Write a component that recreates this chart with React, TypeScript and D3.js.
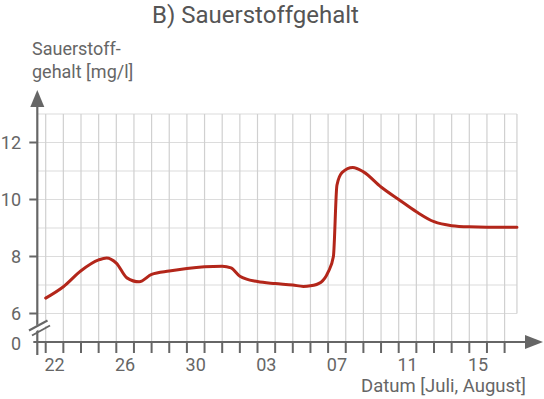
import React from 'react';
import * as d3 from 'd3';

// days counted from the start of 22 July; value in mg/l
const dayPos = [0, 1, 2, 3, 3.45, 4, 4.6, 5.3, 6, 7, 8, 9, 10, 10.5, 11, 12, 13, 14, 14.6, 15, 15.6, 16, 16.3, 16.5, 16.8, 17.4, 18, 19, 20, 21, 22, 23, 24, 25, 26.7];
const oxygen = [6.54, 6.94, 7.5, 7.88, 7.95, 7.77, 7.25, 7.11, 7.37, 7.49, 7.58, 7.64, 7.66, 7.6, 7.31, 7.12, 7.05, 7.0, 6.95, 6.97, 7.1, 7.45, 8.0, 10.5, 10.95, 11.12, 10.97, 10.44, 10.0, 9.57, 9.22, 9.08, 9.04, 9.03, 9.03];

const tickDays = [0, 4, 8, 12, 16, 20, 24];
const tickLabels = ['22', '26', '30', '03', '07', '11', '15'];
const yTicks = [6, 8, 10, 12];
const yGrid = [6, 7, 8, 9, 10, 11, 12, 13];

const W = 544;
const H = 399;
const axisX = 37.3;
const axisY = 342;
const grey = '#666';

const App = () => {
  const x = d3.scaleLinear().domain([0, 26]).range([45.7, 504.6]);
  const y = d3.scaleLinear().domain([6, 13]).range([313.5, 114]);
  const gridRight = x(26.7);

  const line = d3.line<number>()
    .x((d, i) => x(dayPos[i]))
    .y((d) => y(d))
    .curve(d3.curveMonotoneX);

  const font = 'Roboto, sans-serif';

  return (
    <div style={{ position: 'absolute', left: 0, top: 0 }}>
      <svg width={W} height={H} style={{ display: 'block' }}>
        <text x={255.5} y={23} textAnchor="middle" fontFamily={font} fontSize={24} fill="#555">B) Sauerstoffgehalt</text>
        <text x={32} y={55} fontFamily={font} fontSize={18} fill={grey}>Sauerstoff-</text>
        <text x={32} y={78} fontFamily={font} fontSize={18} fill={grey}>gehalt [mg/l]</text>

        {/* grid */}
        {yGrid.map((v) => (
          <line key={'h' + v} x1={axisX} x2={gridRight} y1={y(v)} y2={y(v)} stroke="#dcdcdc" strokeWidth={1.2} />
        ))}
        {d3.range(0, 27).map((d) => (
          <line key={'v' + d} x1={x(d)} x2={x(d)} y1={y(13)} y2={axisY} stroke="#d0d0d0" strokeWidth={1.2} />
        ))}
        <line x1={gridRight} x2={gridRight} y1={y(13)} y2={y(6)} stroke="#d0d0d0" strokeWidth={1.2} />

        {/* curve */}
        <path d={line(oxygen) || ''} fill="none" stroke="#b3261a" strokeWidth={3} strokeLinecap="round" strokeLinejoin="round" />

        {/* y axis */}
        <line x1={axisX} x2={axisX} y1={355} y2={104} stroke={grey} strokeWidth={2.2} />
        <path d={`M${axisX},90 L${axisX - 7},107 L${axisX + 7},107 Z`} fill={grey} />
        {yTicks.map((v) => (
          <g key={'yt' + v}>
            <line x1={axisX - 8} x2={axisX} y1={y(v)} y2={y(v)} stroke={grey} strokeWidth={2} />
            <text x={21} y={y(v) + 6.5} textAnchor="end" fontFamily={font} fontSize={18} fill={grey}>{v}</text>
          </g>
        ))}
        <text x={21} y={axisY + 7.5} textAnchor="end" fontFamily={font} fontSize={18} fill={grey}>0</text>

        {/* axis break */}
        <path d="M29.5,329 L47.5,319.5 L49.5,324 L31.5,333.5 Z" fill="#fff" />
        <line x1={29} x2={47.5} y1={330.5} y2={320.5} stroke={grey} strokeWidth={2} />
        <line x1={32} x2={50} y1={335.5} y2={325.5} stroke={grey} strokeWidth={2} />

        {/* x axis */}
        <line x1={axisX - 4} x2={528} y1={axisY} y2={axisY} stroke={grey} strokeWidth={2.2} />
        <path d={`M543,${axisY} L525,${axisY - 7} L525,${axisY + 7} Z`} fill={grey} />
        {d3.range(0, 27).map((d) => (
          <line key={'xt' + d} x1={x(d)} x2={x(d)} y1={axisY} y2={axisY + 11} stroke={grey} strokeWidth={2} />
        ))}
        {tickDays.map((d, i) => (
          <text key={'xl' + d} x={x(d + 0.5)} y={371} textAnchor="middle" fontFamily={font} fontSize={18} fill={grey}>{tickLabels[i]}</text>
        ))}
        <text x={526} y={392} textAnchor="end" fontFamily={font} fontSize={18.5} fill={grey}>Datum [Juli, August]</text>
      </svg>
    </div>
  );
};

export default App;
